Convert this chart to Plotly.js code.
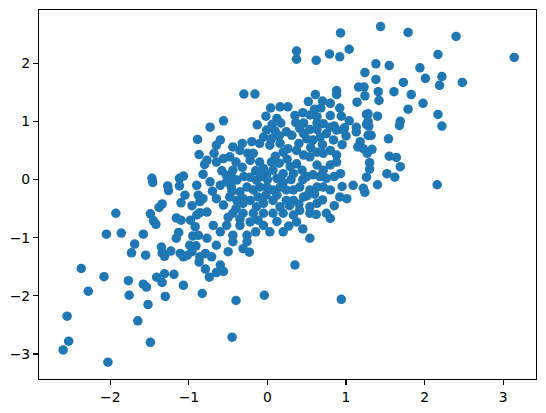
<!DOCTYPE html>
<html>
<head>
<meta charset="utf-8">
<script src="https://cdn.plot.ly/plotly-3.0.1.min.js"></script>
<style>html,body{margin:0;padding:0;background:#fff;}#chart{width:546px;height:413px;}</style>
</head>
<body>
<div id="chart"></div>
<script>
// Scatter values
const xVals = [
0.93,0.37,0.37,0.62,0.79,0.92,1.04,1.24,-0.30,-0.16,0.88,1.16,1.23,1.24,1.14,0.61,0.52,0.80,0.88,0.04,
0.16,0.26,-0.02,0.12,-0.13,-0.56,-0.73,0.60,0.68,0.54,0.80,0.92,0.94,1.04,1.26,1.26,0.36,0.46,0.63,0.06,
0.17,0.85,0.98,1.44,1.79,2.40,3.14,2.17,1.38,1.55,1.94,1.38,2.01,2.22,1.73,2.19,2.48,1.41,1.61,1.83,
1.42,1.98,1.79,1.28,1.40,2.17,1.28,1.69,2.22,1.29,1.28,1.32,1.54,1.33,1.27,1.55,1.64,1.69,1.30,1.30,
1.52,1.62,1.26,1.40,2.16,1.24,1.68,-0.89,-0.87,-0.80,-0.82,-1.47,-1.46,-1.27,-1.26,-1.12,-1.07,-1.12,-1.05,-0.88,
-1.10,-0.96,-0.86,-1.34,-1.38,-0.86,-0.90,-1.93,-1.49,-1.45,-1.42,-1.16,-1.10,-0.92,-2.05,-1.86,-1.58,-1.13,-1.16,-0.95,
-0.88,-1.69,-1.35,-0.99,-0.91,-1.73,-1.55,-1.23,-1.11,-1.34,-1.31,-1.07,-1.02,-0.96,-0.87,-0.79,-2.37,-2.08,-2.28,-1.77,
-1.76,-1.58,-1.54,-1.41,-1.34,-1.31,-1.19,-1.07,-1.30,-1.52,-0.83,-0.79,-2.55,-1.65,-2.53,-2.60,-1.49,-2.03,0.35,-0.74,
-0.60,-0.56,-0.65,-0.40,-0.04,0.94,-0.45,-0.86,-0.71,-0.50,-0.23,0.63,-0.01,0.54,0.71,0.80,0.88,1.13,0.24,0.31,
-0.05,-0.10,0.03,-0.32,-0.44,-0.35,0.46,0.50,0.58,0.67,0.75,0.84,1.15,0.16,0.20,0.26,0.37,0.46,0.54,0.63,
0.71,0.80,0.88,-0.18,-0.22,-0.10,-0.32,-0.05,-0.01,0.07,0.12,0.20,0.29,0.37,0.44,0.63,0.71,0.80,0.88,-0.48,
-0.44,-0.39,-0.46,-0.22,-0.14,-0.26,-0.18,-0.10,-0.01,0.07,0.16,0.24,0.33,0.41,0.54,0.63,0.71,0.80,0.92,1.01,
-0.48,-0.39,-0.31,-0.22,-0.14,-0.05,0.07,0.16,0.24,0.33,0.46,0.54,0.63,0.75,-0.44,-0.31,-0.18,-0.05,0.07,0.20,
0.33,0.41,0.54,-0.69,-0.60,-0.52,-0.44,-0.35,-0.26,-0.22,-0.05,0.03,0.20,0.37,0.54,0.80,1.09,1.22,-0.77,-0.65,
-0.44,-0.31,-0.26,-0.77,-0.65,-0.56,-0.65,-0.60,-0.73,-0.60,-0.52,-0.65,-0.56,-0.77,-0.82,-0.52,-0.44,-0.35,-0.31,1.22,
1.18,1.13,0.10,0.41,0.63,0.97,
0.10,0.05,0.15,0.25,0.33,0.50,0.58,0.45,0.30,0.20,0.00,-0.08,-0.30,-0.15,-0.25,-0.40,0.67,0.75,0.85,0.93,
0.95,0.50,0.60,0.70,0.85,0.40,0.12,-0.02,-0.12,-0.40,-0.50,-0.35,-0.12,0.12,0.27,0.45,-0.15,-0.45,0.40,0.55,
0.70,0.95,1.00,0.35,0.45,0.70,0.05,0.15,-0.20,-0.58,-0.68,-0.90,-0.98,-0.70,0.28,0.62
];
const yVals = [
2.52,2.21,2.07,2.05,2.16,2.11,2.24,1.84,1.47,1.47,1.53,1.59,1.59,1.44,1.33,1.46,1.34,1.31,1.46,1.23,
1.25,1.25,1.09,1.05,0.94,1.01,0.90,1.21,1.23,1.11,1.10,1.23,1.09,1.01,1.12,0.95,0.98,0.97,0.97,0.95,
0.97,0.92,0.89,2.63,2.53,2.46,2.10,2.15,1.99,1.96,1.92,1.72,1.74,1.77,1.67,1.62,1.67,1.51,1.51,1.46,
1.36,1.31,1.21,1.13,1.09,1.12,1.00,1.00,0.92,0.92,0.76,0.76,0.70,0.52,0.45,0.40,0.38,0.22,0.29,0.18,
0.10,0.04,0.04,-0.09,-0.09,-0.22,0.93,0.69,0.43,0.26,0.09,0.02,-0.05,-0.11,-0.19,0.02,0.06,-0.11,-0.27,-0.27,
-0.40,-0.45,-0.38,-0.42,-0.48,-0.57,-0.61,-0.58,-0.59,-0.71,-0.77,-0.66,-0.70,-0.81,-0.94,-0.92,-0.94,-0.91,-1.01,-0.97,
-0.96,-1.11,-1.16,-1.13,-1.14,-1.26,-1.30,-1.23,-1.27,-1.26,-1.32,-1.33,-1.30,-1.24,-1.42,-1.27,-1.53,-1.67,-1.92,-1.74,
-1.99,-1.80,-1.85,-1.68,-1.77,-1.62,-1.63,-1.82,-2.01,-2.15,-1.96,-1.54,-2.35,-2.43,-2.78,-2.93,-2.80,-3.14,-1.47,-1.68,
-1.47,-1.58,-1.60,-2.08,-1.99,-2.06,-2.71,-1.33,-1.33,-1.24,-1.25,1.08,0.85,0.86,0.96,0.90,0.85,0.90,0.82,0.76,
0.73,0.62,0.59,0.62,0.56,0.50,0.79,0.70,0.68,0.73,0.79,0.68,0.56,0.62,0.47,0.53,0.50,0.42,0.39,0.47,
0.45,0.50,0.42,0.45,0.33,0.30,0.21,0.19,0.10,0.16,0.02,0.10,0.22,0.27,0.16,0.25,0.16,0.25,0.30,0.39,
0.16,-0.01,-0.13,0.04,-0.01,-0.13,-0.18,-0.13,-0.13,-0.18,-0.13,-0.18,-0.18,-0.13,-0.18,-0.13,-0.13,-0.18,-0.30,-0.33,
-0.30,-0.36,-0.41,-0.36,-0.47,-0.41,-0.36,-0.47,-0.36,-0.36,-0.30,-0.47,-0.41,-0.58,-0.58,-0.58,-0.58,-0.58,-0.58,-0.58,
-0.61,-0.53,-0.58,-0.79,-0.90,-0.79,-0.96,-0.79,-0.96,-0.73,-0.79,-0.90,-0.90,-0.73,-1.01,-0.67,-0.10,-0.15,-1.01,-1.13,
-1.07,-1.19,-1.07,0.33,0.30,0.36,0.59,0.68,-0.04,-0.10,-0.04,-0.33,-0.44,-0.56,-0.33,0.07,0.02,-0.21,-0.33,0.53,
0.65,0.82,0.83,0.88,0.86,0.85,
0.40,0.30,0.28,0.35,0.10,0.05,0.08,0.00,0.00,-0.05,0.00,0.05,0.05,0.15,0.45,0.30,0.05,0.02,0.05,0.10,
-0.12,-0.28,-0.25,-0.35,-0.45,-0.42,-0.27,-0.27,-0.30,-0.50,-0.65,-0.68,-0.70,-0.72,-0.80,-0.85,-0.90,-0.20,0.62,0.55,
0.60,0.60,0.75,1.10,1.15,1.35,0.70,0.75,0.65,0.15,0.45,-0.10,-0.70,-0.20,-0.45,-0.60
];
const xTicks = [-2, -1, 0, 1, 2, 3];
const yTicks = [-3, -2, -1, 0, 1, 2];

const trace = {
  type: 'scatter', mode: 'markers', x: xVals, y: yVals,
  marker: {color: '#1f77b4', size: 9.5, line: {width: 0}},
  hoverinfo: 'skip', showlegend: false
};
const axisCommon = {
  showgrid: false, zeroline: false, showline: true, mirror: true,
  linecolor: '#000', linewidth: 1.1, ticks: 'outside', ticklen: 5, tickwidth: 1.1,
  tickcolor: '#000', tickfont: {family: 'DejaVu Sans', size: 13.9, color: '#000'},
  tickmode: 'array'
};
const layout = {
  width: 546, height: 413,
  margin: {l: 39, r: 10, t: 10, b: 34, pad: 0},
  paper_bgcolor: '#fff', plot_bgcolor: '#fff',
  xaxis: Object.assign({}, axisCommon, {range: [-2.9075, 3.4175], tickvals: xTicks, ticktext: xTicks.map(v => v < 0 ? '\u2212' + Math.abs(v) : String(v))}),
  yaxis: Object.assign({}, axisCommon, {range: [-3.43, 2.915], tickvals: yTicks, ticktext: yTicks.map(v => v < 0 ? '\u2212' + Math.abs(v) : String(v))})
};
Plotly.newPlot('chart', [trace], layout, {staticPlot: true, displayModeBar: false});
</script>
</body>
</html>
